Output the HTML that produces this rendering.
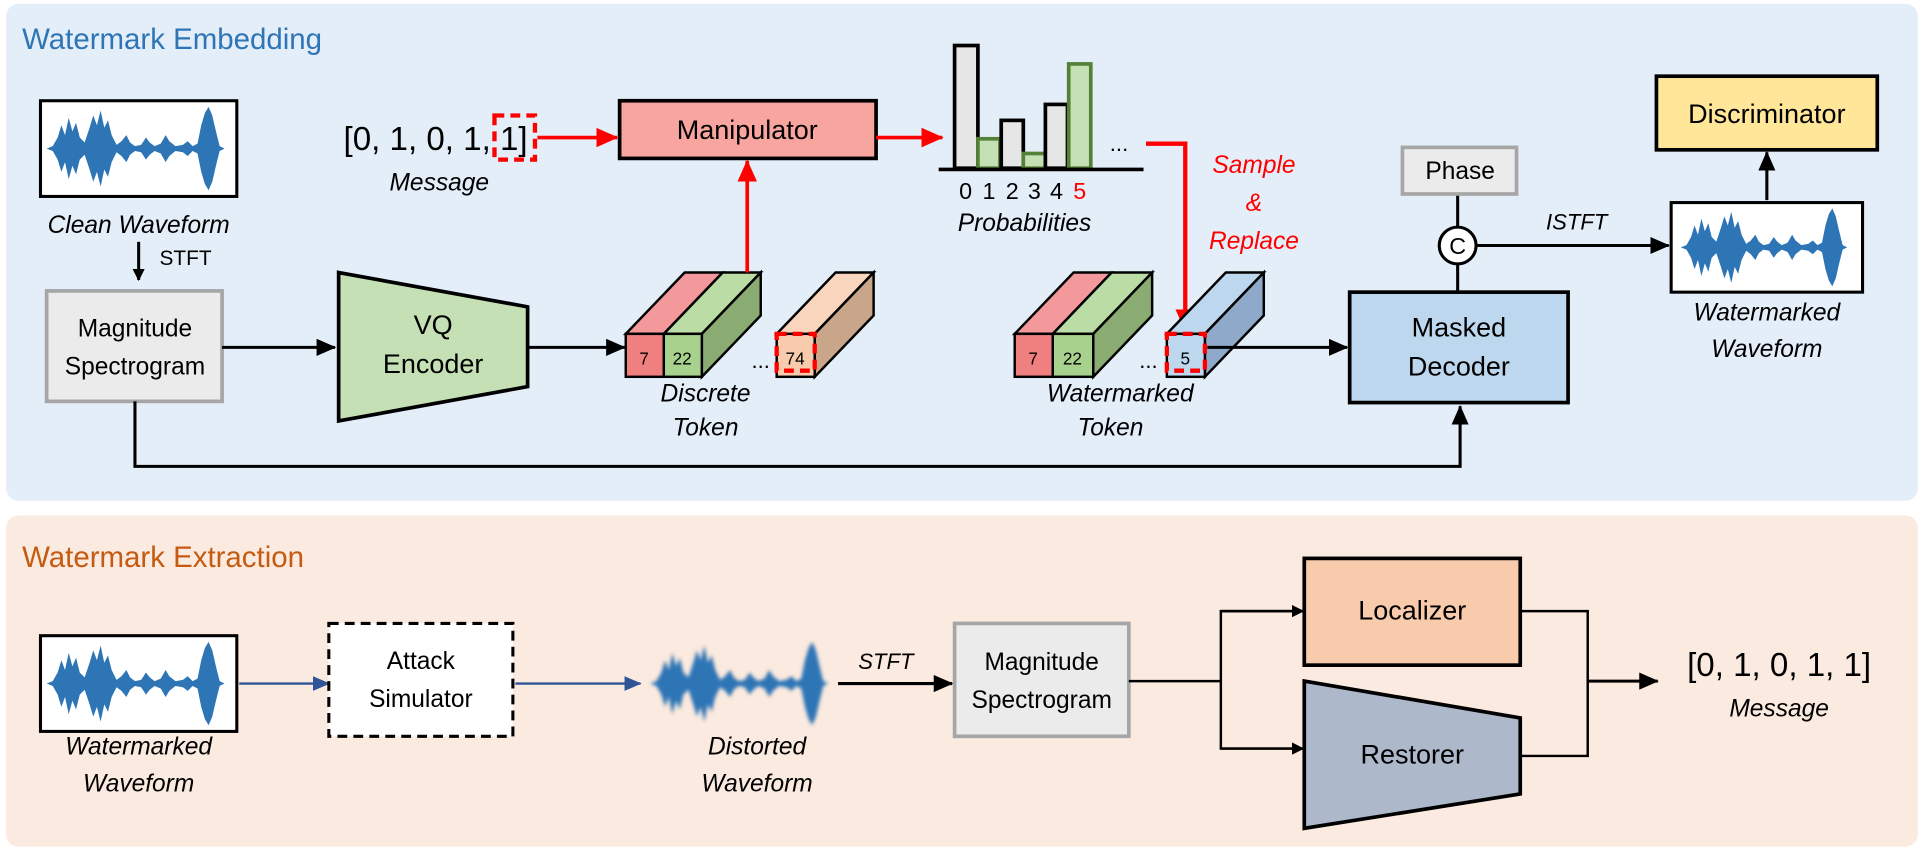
<!DOCTYPE html>
<html><head><meta charset="utf-8"><style>
html,body{margin:0;padding:0;background:#fff;}
svg{display:block;}
text{font-family:"Liberation Sans",sans-serif;fill:#000;}
.i{font-style:italic;}
</style></head><body>
<svg width="1919" height="853" viewBox="0 0 1564 695" xmlns="http://www.w3.org/2000/svg">
<defs>
<marker id="ab" markerWidth="10" markerHeight="10" refX="9" refY="5" orient="auto" markerUnits="userSpaceOnUse" viewBox="0 0 10 10"><path d="M0,0 L10,5 L0,10 z" fill="#000"/></marker>
<marker id="ak" markerWidth="16" markerHeight="14" refX="15" refY="7" orient="auto" markerUnits="userSpaceOnUse"><path d="M0,0 L16,7 L0,14 z" fill="#000"/></marker>
<marker id="ar" markerWidth="18" markerHeight="16" refX="17" refY="8" orient="auto" markerUnits="userSpaceOnUse"><path d="M0,0 L18,8 L0,16 z" fill="#f00"/></marker>
<marker id="abl" markerWidth="14" markerHeight="12" refX="13" refY="6" orient="auto" markerUnits="userSpaceOnUse"><path d="M0,0 L14,6 L0,12 z" fill="#2f5597"/></marker>
<symbol id="wave" viewBox="0 0 160 78">
<path fill="#2e75b6" d="M5,39 L10,37 L14,30 L17,20 L20,28 L23,14 L26,25 L29,18 L32,30 L36,34 L40,22 L43,12 L46,20 L49,8 L52,22 L55,16 L58,28 L62,36 L66,33 L70,28 L73,34 L77,37 L82,36 L86,30 L89,34 L93,37 L98,35 L102,28 L105,33 L110,37 L116,36 L120,33 L124,37 L128,35 L131,20 L134,10 L137,5 L140,12 L143,25 L146,37 L150,39 L146,41 L143,53 L140,66 L137,73 L134,68 L131,58 L128,43 L124,41 L120,45 L116,42 L110,41 L105,45 L102,50 L98,43 L93,41 L89,44 L86,48 L82,42 L77,41 L73,44 L70,50 L66,45 L62,42 L58,50 L55,62 L52,56 L49,70 L46,58 L43,66 L40,56 L36,44 L32,48 L29,60 L26,53 L23,64 L20,50 L17,58 L14,48 L10,41 Z"/>
</symbol>
<filter id="blur"><feGaussianBlur stdDeviation="1.6"/></filter>
</defs>

<!-- panels -->
<rect x="5" y="3" width="1558" height="405" rx="10" fill="#e4eef8"/>
<rect x="5" y="420" width="1558" height="270" rx="10" fill="#fbeadf"/>
<text x="18" y="40" font-size="24" style="fill:#2e75b6">Watermark Embedding</text>
<text x="18" y="462" font-size="24" style="fill:#c55a11">Watermark Extraction</text>

<!-- clean waveform -->
<rect x="33" y="82" width="160" height="78" fill="#fff" stroke="#000" stroke-width="2.5"/>
<use href="#wave" x="33" y="82" width="160" height="78"/>
<text x="113" y="190" font-size="20" text-anchor="middle" class="i">Clean Waveform</text>
<line x1="113" y1="197" x2="113" y2="228" stroke="#000" stroke-width="2.5" marker-end="url(#ab)"/>
<text x="130" y="216" font-size="17">STFT</text>

<!-- magnitude spectrogram -->
<rect x="38" y="237" width="143" height="90" fill="#ebebeb" stroke="#a6a6a6" stroke-width="3"/>
<text x="110" y="274" font-size="20" text-anchor="middle">Magnitude</text>
<text x="110" y="305" font-size="20" text-anchor="middle">Spectrogram</text>
<line x1="181" y1="283" x2="273" y2="283" stroke="#000" stroke-width="2.5" marker-end="url(#ak)"/>
<polyline points="110,327 110,380 1190,380 1190,331" fill="none" stroke="#000" stroke-width="2.5" marker-end="url(#ak)"/>

<!-- VQ encoder -->
<polygon points="276,222 430,250 430,315 276,343" fill="#c5e0b4" stroke="#000" stroke-width="3"/>
<text x="353" y="272" font-size="22" text-anchor="middle">VQ</text>
<text x="353" y="304" font-size="22" text-anchor="middle">Encoder</text>
<line x1="430" y1="283" x2="509" y2="283" stroke="#000" stroke-width="2.5" marker-end="url(#ak)"/>

<!-- discrete token cubes -->
<g stroke="#000" stroke-width="2">
<polygon points="510,272 558,222 589,222 541,272" fill="#f4999b"/>
<polygon points="541,272 589,222 620,222 572,272" fill="#bcdca6"/>
<polygon points="572,272 620,222 620,257 572,307" fill="#8aab72"/>
<rect x="510" y="272" width="31" height="35" fill="#f08080"/>
<rect x="541" y="272" width="31" height="35" fill="#a9d18e"/>
<polygon points="633,272 681,222 712,222 664,272" fill="#f8d5bc"/>
<polygon points="664,272 712,222 712,257 664,307" fill="#c9a58a"/>
<rect x="633" y="272" width="31" height="35" fill="#f8cbad"/>
</g>
<text x="525" y="297" font-size="14" text-anchor="middle">7</text>
<text x="556" y="297" font-size="14" text-anchor="middle">22</text>
<text x="648" y="297" font-size="14" text-anchor="middle">74</text>
<text x="620" y="300" font-size="18" text-anchor="middle">...</text>
<rect x="633" y="272" width="31" height="30" fill="none" stroke="#f00" stroke-width="3.5" stroke-dasharray="8,5"/>
<text x="575" y="327" font-size="20" text-anchor="middle" class="i">Discrete</text>
<text x="575" y="355" font-size="20" text-anchor="middle" class="i">Token</text>

<!-- manipulator -->
<rect x="505" y="82" width="209" height="47" fill="#f8a5a0" stroke="#000" stroke-width="3"/>
<text x="609" y="113" font-size="22" text-anchor="middle">Manipulator</text>
<line x1="609" y1="222" x2="609" y2="131" stroke="#f00" stroke-width="3" marker-end="url(#ar)"/>

<!-- message -->
<text x="280" y="122" font-size="27">[0, 1, 0, 1, 1]</text>
<rect x="403" y="94" width="33" height="36" fill="none" stroke="#f00" stroke-width="3.5" stroke-dasharray="8,5"/>
<text x="358" y="155" font-size="20" text-anchor="middle" class="i">Message</text>
<line x1="438" y1="112" x2="503" y2="112" stroke="#f00" stroke-width="3" marker-end="url(#ar)"/>
<line x1="714" y1="112" x2="768" y2="112" stroke="#f00" stroke-width="3" marker-end="url(#ar)"/>

<!-- histogram -->
<g stroke-width="3">
<rect x="778" y="37" width="19" height="100" fill="#e6e6e6" stroke="#000"/>
<rect x="797" y="113" width="18" height="24" fill="#c5e0b4" stroke="#538135"/>
<rect x="816" y="98" width="18" height="39" fill="#e6e6e6" stroke="#000"/>
<rect x="834" y="125" width="18" height="12" fill="#c5e0b4" stroke="#538135"/>
<rect x="852" y="85" width="18" height="52" fill="#e6e6e6" stroke="#000"/>
<rect x="871" y="52" width="18" height="85" fill="#c5e0b4" stroke="#538135"/>
</g>
<line x1="765" y1="138" x2="932" y2="138" stroke="#000" stroke-width="3"/>
<text x="912" y="123" font-size="18" text-anchor="middle">...</text>
<g font-size="19" text-anchor="middle">
<text x="787" y="162">0</text><text x="806" y="162">1</text><text x="825" y="162">2</text><text x="843" y="162">3</text><text x="861" y="162">4</text><text x="880" y="162" style="fill:#f00">5</text>
</g>
<text x="835" y="188" font-size="20" text-anchor="middle" class="i">Probabilities</text>

<!-- sample & replace -->
<polyline points="934,117 966,117 966,269" fill="none" stroke="#f00" stroke-width="3.5" marker-end="url(#ar)"/>
<g font-size="20" text-anchor="middle" class="i" style="fill:#f00">
<text x="1022" y="141" style="fill:#f00">Sample</text>
<text x="1022" y="172" style="fill:#f00">&amp;</text>
<text x="1022" y="203" style="fill:#f00">Replace</text>
</g>

<!-- watermarked token cubes -->
<g stroke="#000" stroke-width="2">
<polygon points="827,272 875,222 906,222 858,272" fill="#f4999b"/>
<polygon points="858,272 906,222 939,222 891,272" fill="#bcdca6"/>
<polygon points="891,272 939,222 939,257 891,307" fill="#8aab72"/>
<rect x="827" y="272" width="31" height="35" fill="#f08080"/>
<rect x="858" y="272" width="33" height="35" fill="#a9d18e"/>
<polygon points="951,272 999,222 1030,222 982,272" fill="#bdd7ee"/>
<polygon points="982,272 1030,222 1030,257 982,307" fill="#8ea9c9"/>
<rect x="951" y="272" width="31" height="35" fill="#bdd7ee"/>
</g>
<text x="842" y="297" font-size="14" text-anchor="middle">7</text>
<text x="874" y="297" font-size="14" text-anchor="middle">22</text>
<text x="966" y="297" font-size="14" text-anchor="middle">5</text>
<text x="936" y="300" font-size="18" text-anchor="middle">...</text>
<rect x="951" y="272" width="31" height="30" fill="none" stroke="#f00" stroke-width="3.5" stroke-dasharray="8,5"/>
<text x="913" y="327" font-size="20" text-anchor="middle" class="i">Watermarked</text>
<text x="905" y="355" font-size="20" text-anchor="middle" class="i">Token</text>
<line x1="984" y1="283" x2="1098" y2="283" stroke="#000" stroke-width="2.5" marker-end="url(#ak)"/>

<!-- masked decoder -->
<rect x="1100" y="238" width="178" height="90" fill="#bdd7ee" stroke="#000" stroke-width="3"/>
<text x="1189" y="274" font-size="22" text-anchor="middle">Masked</text>
<text x="1189" y="306" font-size="22" text-anchor="middle">Decoder</text>
<line x1="1188" y1="238" x2="1188" y2="215" stroke="#000" stroke-width="2.5"/>
<line x1="1188" y1="185" x2="1188" y2="158" stroke="#000" stroke-width="2.5"/>
<rect x="1143" y="120" width="93" height="38" fill="#ebebeb" stroke="#a6a6a6" stroke-width="3"/>
<text x="1190" y="146" font-size="20" text-anchor="middle">Phase</text>
<circle cx="1188" cy="200" r="15" fill="#fff" stroke="#000" stroke-width="2.5"/>
<text x="1188" y="207" font-size="19" text-anchor="middle">C</text>
<line x1="1203" y1="200" x2="1360" y2="200" stroke="#000" stroke-width="2.5" marker-end="url(#ak)"/>
<text x="1285" y="187" font-size="18" text-anchor="middle" class="i">ISTFT</text>

<!-- watermarked waveform top -->
<rect x="1362" y="165" width="156" height="73" fill="#fff" stroke="#000" stroke-width="2.5"/>
<use href="#wave" x="1362" y="165" width="156" height="73"/>
<text x="1440" y="261" font-size="20" text-anchor="middle" class="i">Watermarked</text>
<text x="1440" y="291" font-size="20" text-anchor="middle" class="i">Waveform</text>
<line x1="1440" y1="163" x2="1440" y2="124" stroke="#000" stroke-width="2.5" marker-end="url(#ak)"/>
<rect x="1350" y="62" width="180" height="60" fill="#ffe699" stroke="#000" stroke-width="3"/>
<text x="1440" y="100" font-size="22" text-anchor="middle">Discriminator</text>

<!-- extraction -->
<rect x="33" y="518" width="160" height="78" fill="#fff" stroke="#000" stroke-width="2.5"/>
<use href="#wave" x="33" y="518" width="160" height="78"/>
<text x="113" y="615" font-size="20" text-anchor="middle" class="i">Watermarked</text>
<text x="113" y="645" font-size="20" text-anchor="middle" class="i">Waveform</text>
<line x1="195" y1="557" x2="268" y2="557" stroke="#2f5597" stroke-width="2" marker-end="url(#abl)"/>
<rect x="268" y="508" width="150" height="92" fill="#fff" stroke="#000" stroke-width="2.5" stroke-dasharray="8,5"/>
<text x="343" y="545" font-size="20" text-anchor="middle">Attack</text>
<text x="343" y="576" font-size="20" text-anchor="middle">Simulator</text>
<line x1="420" y1="557" x2="522" y2="557" stroke="#2f5597" stroke-width="2" marker-end="url(#abl)"/>
<use href="#wave" x="525" y="518" width="160" height="78" filter="url(#blur)"/>
<text x="617" y="615" font-size="20" text-anchor="middle" class="i">Distorted</text>
<text x="617" y="645" font-size="20" text-anchor="middle" class="i">Waveform</text>
<line x1="683" y1="557" x2="776" y2="557" stroke="#000" stroke-width="2.5" marker-end="url(#ak)"/>
<text x="722" y="545" font-size="18" text-anchor="middle" class="i">STFT</text>
<rect x="778" y="508" width="142" height="92" fill="#ebebeb" stroke="#a6a6a6" stroke-width="3"/>
<text x="849" y="546" font-size="20" text-anchor="middle">Magnitude</text>
<text x="849" y="577" font-size="20" text-anchor="middle">Spectrogram</text>
<line x1="920" y1="555" x2="995" y2="555" stroke="#000" stroke-width="2"/>
<polyline points="1061,498 995,498 995,610 1061,610" fill="none" stroke="#000" stroke-width="2"/>
<line x1="995" y1="498" x2="1062" y2="498" stroke="#000" stroke-width="2" marker-end="url(#ab)"/>
<line x1="995" y1="610" x2="1062" y2="610" stroke="#000" stroke-width="2" marker-end="url(#ab)"/>
<rect x="1063" y="455" width="176" height="87" fill="#f8cbad" stroke="#000" stroke-width="3"/>
<text x="1151" y="505" font-size="22" text-anchor="middle">Localizer</text>
<polygon points="1063,555 1239,585 1239,647 1063,675" fill="#adb9ca" stroke="#000" stroke-width="3"/>
<text x="1151" y="622" font-size="22" text-anchor="middle">Restorer</text>
<polyline points="1239,498 1294,498 1294,616 1239,616" fill="none" stroke="#000" stroke-width="2"/>
<line x1="1294" y1="555" x2="1351" y2="555" stroke="#000" stroke-width="2.5" marker-end="url(#ak)"/>
<text x="1450" y="551" font-size="27" text-anchor="middle">[0, 1, 0, 1, 1]</text>
<text x="1450" y="584" font-size="20" text-anchor="middle" class="i">Message</text>
</svg>
</body></html>
